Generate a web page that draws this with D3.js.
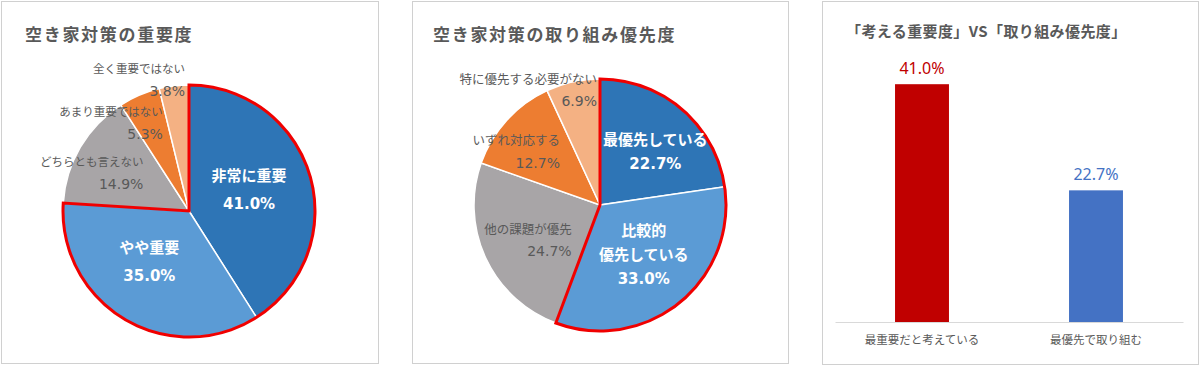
<!DOCTYPE html>
<html>
<head>
<meta charset="utf-8">
<script src="https://cdn.jsdelivr.net/npm/d3@7"></script>
<style>
  body { margin: 0; background: #fff; }
  text { font-family: "DejaVu Sans", "Noto Sans CJK JP", sans-serif; }
  .title { font-family: "Noto Sans CJK JP", sans-serif; font-weight: bold; fill: #595959; }
  .bar-axis .domain { stroke: #d9d9d9; }
  .bar-axis text { font-family: "Noto Sans CJK JP", sans-serif; font-size: 11.5px; fill: #595959; }
</style>
</head>
<body>
<div id="chart"></div>
<script>
// data
var pie1Labels = ["非常に重要", "やや重要", "どちらとも言えない", "あまり重要ではない", "全く重要ではない"];
var pie1Values = [41.0, 35.0, 14.9, 5.3, 3.8];

var pie2Labels = ["最優先している", "比較的\n優先している", "他の課題が優先", "いずれ対応する", "特に優先する必要がない"];
var pie2Values = [22.7, 33.0, 24.7, 12.7, 6.9];

var barLabels = ["最重要だと考えている", "最優先で取り組む"];
var barValues = [41.0, 22.7];

var sliceColors = ["#2e75b6", "#5b9bd5", "#a8a5a7", "#ed7d31", "#f4b183"];
var barColors = ["#c00000", "#4472c4"];

var svg = d3.select("#chart")
    .append("svg")
        .attr("width", 1200)
        .attr("height", 366);

// panel frames
[[1, 1, 377, 362], [412, 1, 376, 362], [822, 1, 376, 363]].forEach(function(p) {
    svg.append("rect")
        .attr("x", p[0] + 0.5).attr("y", p[1] + 0.5)
        .attr("width", p[2]).attr("height", p[3])
        .attr("fill", "#fff")
        .attr("stroke", "#d0d0d0");
});

function drawPie(cx, cy, r, values, labels, layout, innerLh, outerSize, title, titleX) {

    svg.append("text")
        .attr("class", "title")
        .attr("x", titleX).attr("y", 33)
        .attr("dominant-baseline", "central")
        .style("font-size", "17px")
        .style("letter-spacing", "1.7px")
        .text(title);

    var g = svg.append("g")
        .attr("transform", "translate(" + cx + "," + cy + ")");

    var arcs = d3.pie().sort(null).value(function(d) { return d; })(values);
    var arc = d3.arc().innerRadius(0).outerRadius(r);

    g.selectAll(".slice")
        .data(arcs)
        .enter().append("path")
            .attr("class", "slice")
            .attr("d", arc)
            .attr("fill", function(d, i) { return sliceColors[i]; })
            .attr("stroke", "#fff")
            .attr("stroke-width", 1.5);

    // red outline round the first two slices
    g.append("path")
        .attr("d", arc({startAngle: arcs[0].startAngle, endAngle: arcs[1].endAngle}))
        .attr("fill", "none")
        .attr("stroke", "#f00000")
        .attr("stroke-width", 3)
        .attr("stroke-linejoin", "miter");

    arcs.forEach(function(d, i) {
        var a = (d.startAngle + d.endAngle) / 2 + layout[i][1] * Math.PI / 180;
        var k = layout[i][0];
        var x = k * r * Math.sin(a),
            y = -k * r * Math.cos(a);
        var inner = i < 2;
        var lines = labels[i].split("\n").concat([d3.format(".1f")(values[i]) + "%"]);
        var lh = inner ? innerLh : 22;

        var t = g.append("text")
            .attr("text-anchor", inner ? "middle" : "end")
            .attr("fill", inner ? "#fff" : "#595959")
            .style("font-weight", inner ? "bold" : "normal");

        lines.forEach(function(s, j) {
            var isPct = j == lines.length - 1;
            t.append("tspan")
                .attr("x", x)
                .attr("y", y + (j - (lines.length - 1) / 2) * lh)
                .attr("dominant-baseline", "central")
                .style("font-size", isPct ? (inner ? "15px" : "14px") : (inner ? "15px" : outerSize))
                .text(s);
        });
    });
}

// label placement: [radius factor, angle shift in degrees]
drawPie(189, 211, 126, pie1Values, pie1Labels,
    [[0.505, -3], [0.51, 7.5], [0.47, 9.2], [0.73, 6.7], [1.04, 5.1]], 28, "11.5px",
    "空き家対策の重要度", 25);

drawPie(600, 205, 126, pie2Values, pie2Labels,
    [[0.61, 5.2], [0.53, -2], [0.36, -26.3], [0.53, 10.9], [0.91, 10.9]], 24, "12.5px",
    "空き家対策の取り組み優先度", 433);

// bar chart
svg.append("text")
    .attr("class", "title")
    .attr("x", 846).attr("y", 30)
    .attr("dominant-baseline", "central")
    .style("font-size", "15px")
    .style("letter-spacing", "0.4px")
    .text("「考える重要度」VS「取り組み優先度」");

var x = d3.scaleBand()
    .domain(barLabels)
    .range([835, 1183])
    .paddingInner(0.69)
    .paddingOuter(0.345);

var y = d3.scaleLinear()
    .domain([0, 45])
    .range([322, 61]);

svg.selectAll(".bar")
    .data(barValues)
    .enter().append("rect")
        .attr("class", "bar")
        .attr("x", function(d, i) { return x(barLabels[i]); })
        .attr("y", function(d) { return y(d); })
        .attr("width", x.bandwidth())
        .attr("height", function(d) { return y(0) - y(d); })
        .attr("fill", function(d, i) { return barColors[i]; });

svg.selectAll(".bar-value")
    .data(barValues)
    .enter().append("text")
        .attr("class", "bar-value")
        .attr("x", function(d, i) { return x(barLabels[i]) + x.bandwidth() / 2; })
        .attr("y", function(d) { return y(d) - 16; })
        .attr("text-anchor", "middle")
        .attr("dominant-baseline", "central")
        .attr("fill", function(d, i) { return barColors[i]; })
        .style("font-family", "'Noto Sans', sans-serif")
        .style("font-size", "16px")
        .text(function(d) { return d3.format(".1f")(d) + "%"; });

var xAxis = svg.append("g")
    .attr("class", "bar-axis")
    .attr("transform", "translate(0," + y(0) + ")")
    .call(d3.axisBottom(x).tickSize(0).tickPadding(14).tickSizeOuter(0));
</script>
</body>
</html>
